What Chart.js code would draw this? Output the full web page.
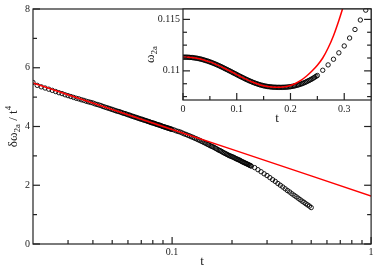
<!DOCTYPE html>
<html lang="en">
  <head>
    <meta charset="UTF-8" />
    <title>delta omega 2a</title>
    <script src="https://cdn.jsdelivr.net/npm/chart.js"></script>
    <style>
      body {
        margin: 0;
        background: #fff;
      }
      .wrap {
        position: relative;
        width: 376px;
        height: 267px;
      }
      .wrap canvas {
        position: absolute;
        left: 0;
        top: 0;
      }
    </style>
  </head>
  <body>
    <div class="wrap">
      <canvas id="mainChart" width="376" height="267"></canvas>
      <canvas id="insetChart" width="376" height="267"></canvas>
    </div>

    <script>
      // main panel: delta omega_2a / t^4 against t (log axis)
      const mainT = [
        0.02, 0.021, 0.022, 0.023, 0.024, 0.025, 0.026, 0.027, 0.028, 0.029,
        0.03, 0.031, 0.032, 0.033, 0.034, 0.035, 0.036, 0.037, 0.038, 0.039,
        0.04, 0.041, 0.042, 0.043, 0.044, 0.045, 0.046, 0.047, 0.048, 0.049,
        0.05, 0.051, 0.052, 0.053, 0.054, 0.055, 0.056, 0.057, 0.058, 0.059,
        0.06, 0.061, 0.062, 0.063, 0.064, 0.065, 0.066, 0.067, 0.068, 0.069,
        0.07, 0.071, 0.072, 0.073, 0.074, 0.075, 0.076, 0.077, 0.078, 0.079,
        0.08, 0.081, 0.082, 0.083, 0.084, 0.085, 0.086, 0.087, 0.088, 0.089,
        0.09, 0.091, 0.092, 0.093, 0.094, 0.095, 0.096, 0.097, 0.098, 0.099,
        0.1, 0.1025, 0.105, 0.1075, 0.11, 0.1125, 0.115, 0.1175, 0.12, 0.1225,
        0.125, 0.1275, 0.13, 0.1325, 0.135, 0.1375, 0.14, 0.1425, 0.145, 0.1475,
        0.15, 0.1525, 0.155, 0.1575, 0.16, 0.1625, 0.165, 0.1675, 0.17, 0.1725,
        0.175, 0.1775, 0.18, 0.1825, 0.185, 0.1875, 0.19, 0.1925, 0.195, 0.1975,
        0.2, 0.2025, 0.205, 0.2075, 0.21, 0.2125, 0.215, 0.2175, 0.22, 0.2225,
        0.225, 0.2275, 0.23, 0.2325, 0.235, 0.2375, 0.24, 0.2425, 0.245, 0.2475,
        0.25, 0.26, 0.27, 0.28, 0.29, 0.3, 0.31, 0.32, 0.33, 0.34,
        0.35, 0.36, 0.37, 0.38, 0.39, 0.4, 0.41, 0.42, 0.43, 0.44,
        0.45, 0.46, 0.47, 0.48, 0.49, 0.5,
      ];
      const mainVal = [
        5.5, 5.4, 5.35, 5.31, 5.27, 5.23, 5.19, 5.15, 5.12, 5.08,
        5.05, 5.02, 4.99, 4.96, 4.94, 4.91, 4.89, 4.86, 4.84, 4.82,
        4.8, 4.77, 4.75, 4.73, 4.71, 4.68, 4.66, 4.64, 4.62, 4.6,
        4.58, 4.56, 4.54, 4.52, 4.51, 4.49, 4.47, 4.45, 4.44, 4.42,
        4.4, 4.39, 4.37, 4.35, 4.34, 4.32, 4.31, 4.29, 4.28, 4.26,
        4.25, 4.24, 4.22, 4.21, 4.2, 4.18, 4.17, 4.16, 4.14, 4.13,
        4.12, 4.11, 4.1, 4.08, 4.07, 4.06, 4.05, 4.04, 4.03, 4.01,
        4.0, 3.99, 3.98, 3.97, 3.96, 3.95, 3.94, 3.93, 3.92, 3.91,
        3.9, 3.88, 3.85, 3.83, 3.81, 3.78, 3.75, 3.73, 3.7, 3.68,
        3.65, 3.63, 3.6, 3.58, 3.55, 3.53, 3.5, 3.48, 3.45, 3.43,
        3.4, 3.38, 3.35, 3.33, 3.31, 3.29, 3.26, 3.24, 3.21, 3.19,
        3.17, 3.15, 3.12, 3.1, 3.08, 3.06, 3.04, 3.02, 3.0, 2.99,
        2.97, 2.96, 2.94, 2.92, 2.9, 2.89, 2.87, 2.86, 2.84, 2.82,
        2.8, 2.79, 2.77, 2.76, 2.74, 2.73, 2.71, 2.7, 2.68, 2.67,
        2.65, 2.6, 2.53, 2.46, 2.39, 2.33, 2.26, 2.19, 2.13, 2.06,
        2.0, 1.94, 1.88, 1.82, 1.77, 1.71, 1.66, 1.61, 1.56, 1.51,
        1.46, 1.42, 1.37, 1.33, 1.29, 1.24,
      ];
      const mainFitT = [0.02, 0.03, 0.05, 0.1, 0.2, 0.5, 1];
      const mainFitVal = [5.48, 5.08, 4.58, 3.9, 3.22, 2.32, 1.63];

      // inset: omega_2a against t
      const insetT = [
        0, 0.0025, 0.005, 0.0075, 0.01, 0.0125, 0.015, 0.0175, 0.02, 0.0225,
        0.025, 0.0275, 0.03, 0.0325, 0.035, 0.0375, 0.04, 0.0425, 0.045, 0.0475,
        0.05, 0.0525, 0.055, 0.0575, 0.06, 0.0625, 0.065, 0.0675, 0.07, 0.0725,
        0.075, 0.0775, 0.08, 0.0825, 0.085, 0.0875, 0.09, 0.0925, 0.095, 0.0975,
        0.1, 0.1025, 0.105, 0.1075, 0.11, 0.1125, 0.115, 0.1175, 0.12, 0.1225,
        0.125, 0.1275, 0.13, 0.1325, 0.135, 0.1375, 0.14, 0.1425, 0.145, 0.1475,
        0.15, 0.1525, 0.155, 0.1575, 0.16, 0.1625, 0.165, 0.1675, 0.17, 0.1725,
        0.175, 0.1775, 0.18, 0.1825, 0.185, 0.1875, 0.19, 0.1925, 0.195, 0.1975,
        0.2, 0.2025, 0.205, 0.2075, 0.21, 0.2125, 0.215, 0.2175, 0.22, 0.2225,
        0.225, 0.2275, 0.23, 0.2325, 0.235, 0.2375, 0.24, 0.2425, 0.245, 0.2475,
        0.25, 0.26, 0.27, 0.28, 0.29, 0.3, 0.31, 0.32, 0.33, 0.34,
      ];
      const insetVal = [
        0.11133, 0.11133, 0.11133, 0.11133, 0.11132, 0.11131, 0.1113, 0.11129, 0.11127, 0.11125,
        0.11123, 0.11121, 0.11118, 0.11115, 0.11112, 0.11108, 0.11104, 0.111, 0.11096, 0.11092,
        0.11087, 0.11082, 0.11077, 0.11072, 0.11066, 0.11061, 0.11055, 0.11049, 0.11043, 0.11037,
        0.1103, 0.11024, 0.11017, 0.11011, 0.11004, 0.10998, 0.10991, 0.10984, 0.10977, 0.10971,
        0.10964, 0.10957, 0.1095, 0.10944, 0.10937, 0.10931, 0.10924, 0.10918, 0.10912, 0.10906,
        0.109, 0.10895, 0.10889, 0.10884, 0.10879, 0.10875, 0.1087, 0.10866, 0.10862, 0.10859,
        0.10855, 0.10853, 0.1085, 0.10848, 0.10846, 0.10845, 0.10843, 0.10842, 0.10841, 0.10841,
        0.1084, 0.1084, 0.1084, 0.1084, 0.1084, 0.10841, 0.10841, 0.10842, 0.10843, 0.10845,
        0.10846, 0.10849, 0.10851, 0.10854, 0.10857, 0.10861, 0.10864, 0.10869, 0.10873, 0.10878,
        0.10883, 0.10889, 0.10895, 0.10902, 0.10908, 0.10915, 0.10922, 0.1093, 0.10938, 0.10947,
        0.10955, 0.11006, 0.11058, 0.11113, 0.11175, 0.11242, 0.11319, 0.11402, 0.11494, 0.1159,
      ];
      const insetFitT = [
        0, 0.01, 0.02, 0.03, 0.04, 0.05, 0.06, 0.07, 0.08, 0.09, 0.1,
        0.11, 0.12, 0.13, 0.14, 0.15, 0.16, 0.17, 0.18, 0.19, 0.2,
        0.21, 0.22, 0.23, 0.24, 0.25, 0.26, 0.27, 0.28, 0.29, 0.3,
      ];
      const insetFitVal = [
        0.11133, 0.11132, 0.11127, 0.11118, 0.11104, 0.11087, 0.11066, 0.11043, 0.11017, 0.10991, 0.10964,
        0.10937, 0.10912, 0.10889, 0.1087, 0.10855, 0.10846, 0.10841, 0.10841, 0.10845, 0.10858,
        0.1088, 0.1091, 0.1095, 0.10999, 0.11055, 0.11125, 0.11222, 0.11342, 0.1149, 0.11655,
      ];

      // ticks
      const mainXLabels = [0.1, 1];
      const mainXMinor = [0.03, 0.04, 0.05, 0.06, 0.07, 0.08, 0.09, 0.2, 0.3, 0.4, 0.5, 0.6, 0.7, 0.8, 0.9];
      const mainYLabels = [0, 2, 4, 6, 8];
      const mainYMinor = [1, 3, 5, 7];
      const insetXLabels = [0, 0.1, 0.2, 0.3];
      const insetXMinor = [0.05, 0.15, 0.25];
      const insetYLabels = [0.11, 0.115];
      const insetYMinor = [0.1075, 0.10875, 0.11125, 0.1125, 0.11375];

      const serif = "'Liberation Serif', 'DejaVu Serif', serif";
      const ink = "#222";

      const toPoints = (xs, ys) => xs.map((x, i) => ({ x, y: ys[i] }));

      // frame, inward ticks and axis titles (kept out of the options resolver)
      const makeFrame = (cfg) => ({
        id: "frame",
        beforeDraw(chart) {
          if (!cfg.fill) return;
          const { ctx, chartArea: a } = chart;
          ctx.save();
          ctx.fillStyle = cfg.fill;
          ctx.fillRect(a.left, a.top, a.width, a.height);
          ctx.restore();
        },
        afterDraw(chart) {
          const { ctx, chartArea: a, scales } = chart;
          ctx.save();
          ctx.strokeStyle = ink;
          ctx.lineWidth = 1.2;
          ctx.strokeRect(a.left, a.top, a.width, a.height);

          const line = (x1, y1, x2, y2) => {
            ctx.beginPath();
            ctx.moveTo(x1, y1);
            ctx.lineTo(x2, y2);
            ctx.stroke();
          };
          const xt = (vals, len) =>
            vals.forEach((v) => {
              const x = scales.x.getPixelForValue(v);
              line(x, a.bottom, x, a.bottom - len);
            });
          const yt = (vals, len) =>
            vals.forEach((v) => {
              const y = scales.y.getPixelForValue(v);
              line(a.left, y, a.left + len, y);
              line(a.right, y, a.right - len, y);
            });
          xt(cfg.xMajor, 7);
          xt(cfg.xMinor, 4);
          yt(cfg.yMajor, 7);
          yt(cfg.yMinor, 4);

          ctx.fillStyle = ink;
          ctx.textBaseline = "alphabetic";
          cfg.titles.forEach((t) => {
            ctx.save();
            ctx.translate(t.x(a), t.y(a));
            if (t.rotate) ctx.rotate(-Math.PI / 2);
            let w = 0;
            t.parts.forEach((p) => {
              ctx.font = `${p.size}px ${serif}`;
              w += ctx.measureText(p.text).width;
            });
            let x = -w / 2;
            t.parts.forEach((p) => {
              ctx.font = `${p.size}px ${serif}`;
              ctx.fillText(p.text, x, p.shift);
              x += ctx.measureText(p.text).width;
            });
            ctx.restore();
          });
          ctx.restore();
        },
      });

      const axis = (labels, pad, fit) => ({
        grid: { display: false, drawTicks: false },
        border: { display: false },
        ticks: {
          color: ink,
          font: { family: serif, size: 10 },
          padding: pad,
          maxRotation: 0,
          autoSkip: false,
          callback: (v) => String(v),
        },
        afterBuildTicks: (s) => {
          s.ticks = labels.map((value) => ({ value }));
        },
        afterFit: fit,
      });

      const baseOptions = {
        responsive: false,
        animation: false,
        plugins: {
          legend: { display: false },
          tooltip: { enabled: false },
        },
      };

      new Chart(document.getElementById("mainChart"), {
        type: "scatter",
        data: {
          datasets: [
            {
              data: toPoints(mainFitT, mainFitVal),
              showLine: true,
              borderColor: "#ff0000",
              borderWidth: 1.5,
              pointRadius: 0,
              order: 1,
            },
            {
              data: toPoints(mainT, mainVal),
              borderColor: "#000",
              backgroundColor: "rgba(0,0,0,0)",
              borderWidth: 0.9,
              pointRadius: 2.2,
              order: 2,
            },
          ],
        },
        options: {
          ...baseOptions,
          layout: { padding: { top: 4, right: 3, left: 0, bottom: 0 } },
          scales: {
            x: {
              type: "logarithmic",
              min: 0.02,
              max: 1,
              ...axis(mainXLabels, 2, (s) => (s.height = 23)),
            },
            y: {
              min: 0,
              max: 8,
              ...axis(mainYLabels, 3, (s) => (s.width = 33)),
            },
          },
        },
        plugins: [
          makeFrame({
            xMajor: mainXLabels,
            xMinor: mainXMinor,
            yMajor: mainYLabels,
            yMinor: mainYMinor,
            titles: [
              {
                x: (a) => (a.left + a.right) / 2,
                y: (a) => a.bottom + 21,
                parts: [{ text: "t", size: 13, shift: 0 }],
              },
              {
                rotate: true,
                x: () => 17,
                y: (a) => (a.top + a.bottom) / 2,
                parts: [
                  { text: "δω", size: 13, shift: 0 },
                  { text: "2a", size: 9, shift: 3 },
                  { text: " / t", size: 13, shift: 0 },
                  { text: "4", size: 9, shift: -6 },
                ],
              },
            ],
          }),
        ],
      });

      new Chart(document.getElementById("insetChart"), {
        type: "scatter",
        data: {
          datasets: [
            {
              data: toPoints(insetFitT, insetFitVal),
              showLine: true,
              borderColor: "#ff0000",
              borderWidth: 1.5,
              pointRadius: 0,
              cubicInterpolationMode: "monotone",
              order: 1,
            },
            {
              data: toPoints(insetT, insetVal),
              borderColor: "#000",
              backgroundColor: "rgba(0,0,0,0)",
              borderWidth: 0.9,
              pointRadius: 2.2,
              order: 2,
            },
          ],
        },
        options: {
          ...baseOptions,
          layout: { padding: { top: 4, right: 3, left: 140, bottom: 147 } },
          scales: {
            x: {
              min: 0,
              max: 0.35,
              ...axis(insetXLabels, 3, (s) => (s.height = 20)),
            },
            y: {
              min: 0.10717,
              max: 0.11601,
              ...axis(insetYLabels, 3, (s) => (s.width = 43)),
            },
          },
        },
        plugins: [
          makeFrame({
            fill: "#fff",
            xMajor: insetXLabels,
            xMinor: insetXMinor,
            yMajor: insetYLabels,
            yMinor: insetYMinor,
            titles: [
              {
                x: (a) => (a.left + a.right) / 2,
                y: (a) => a.bottom + 22,
                parts: [{ text: "t", size: 13, shift: 0 }],
              },
              {
                rotate: true,
                x: (a) => a.left - 29,
                y: (a) => (a.top + a.bottom) / 2,
                parts: [
                  { text: "ω", size: 13, shift: 0 },
                  { text: "2a", size: 9, shift: 3 },
                ],
              },
            ],
          }),
        ],
      });
    </script>
  </body>
</html>
